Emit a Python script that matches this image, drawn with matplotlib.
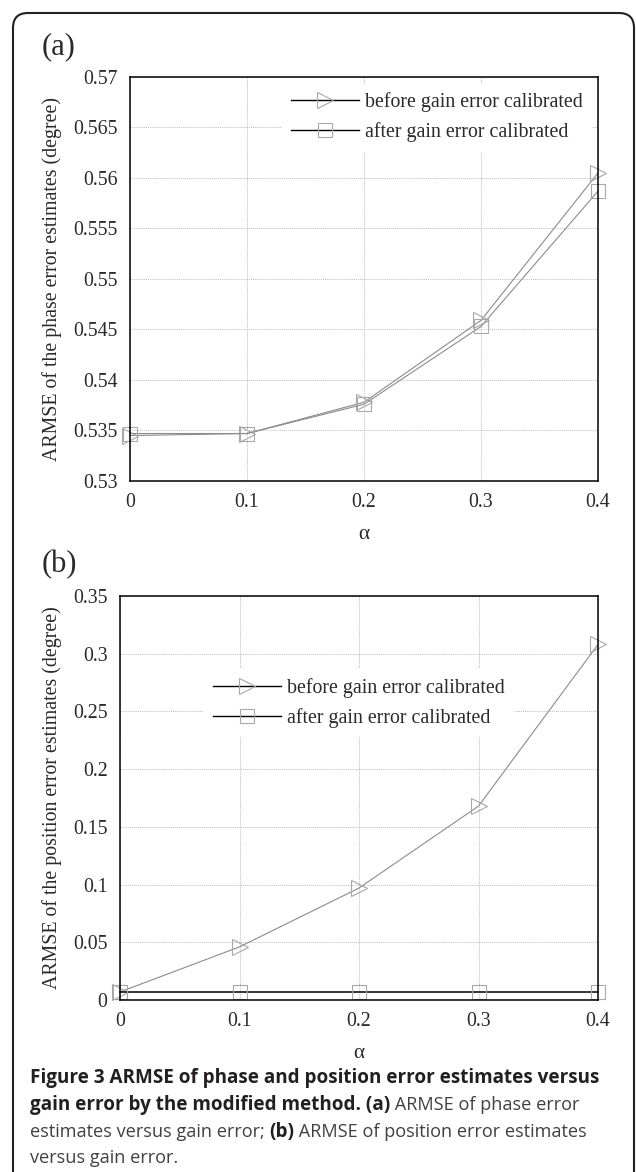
import matplotlib
matplotlib.use('Agg')
import matplotlib.pyplot as plt
from matplotlib.lines import Line2D
from matplotlib.patches import FancyBboxPatch
import matplotlib.transforms as mtransforms

alpha = [0, 0.1, 0.2, 0.3, 0.4]
phase_before = [0.5345, 0.5347, 0.5378, 0.5459, 0.5605]
phase_after = [0.5347, 0.5347, 0.5376, 0.5453, 0.5587]
pos_before = [0.007, 0.046, 0.097, 0.168, 0.308]
pos_after = [0.007, 0.007, 0.007, 0.007, 0.007]
xticks = [0, 0.1, 0.2, 0.3, 0.4]
xlabels = ['0', '0.1', '0.2', '0.3', '0.4']
yticks_a = [0.53, 0.535, 0.54, 0.545, 0.55, 0.555, 0.56, 0.565, 0.57]
ylabels_a = ['0.53', '0.535', '0.54', '0.545', '0.55', '0.555', '0.56', '0.565', '0.57']
yticks_b = [0, 0.05, 0.1, 0.15, 0.2, 0.25, 0.3, 0.35]
ylabels_b = ['0', '0.05', '0.1', '0.15', '0.2', '0.25', '0.3', '0.35']
names = ['before gain error calibrated', 'after gain error calibrated']

plt.rcParams['font.family'] = ['Liberation Serif', 'DejaVu Serif']

W, H = 636, 1172
fig = plt.figure(figsize=(W / 100, H / 100), dpi=100)

FS = 14.3
tc = '#2a2a2a'
gray = '#8c8c8c'
mgray = '#a8a8a8'


def setup(ax, yt, yl, ylab, lx, xl_y):
    ax.set_xlim(0, 0.4)
    ax.set_xticks(xticks)
    ax.set_xticklabels(xlabels)
    ax.set_yticks(yt)
    ax.set_yticklabels(yl)
    ax.set_ylim(yt[0], yt[-1])
    ax.tick_params(length=0, labelsize=FS, colors=tc)
    ax.tick_params(axis='x', pad=8.5)
    ax.tick_params(axis='y', pad=9)
    ax.grid(True, color='#bdbdbd', linestyle=(0, (1, 1)), linewidth=0.7)
    ax.set_axisbelow(True)
    for s in ax.spines.values():
        s.set_linewidth(1.1)
        s.set_color('black')
    ax.set_xlabel('α', fontsize=FS + 1, color=tc)
    ax.xaxis.set_label_coords(0.5, xl_y)
    ax.set_ylabel(ylab, fontsize=FS, color=tc)
    ax.yaxis.set_label_coords(lx, 0.5)


def legend(ax, x, y):
    hs = [Line2D([], [], color='black', lw=1.0, marker='>', ms=12, mfc='none', mec=mgray, mew=0.8),
          Line2D([], [], color='black', lw=1.0, marker='s', ms=10, mfc='none', mec=mgray, mew=0.8)]
    bp = 0.45
    leg = ax.legend(hs, names, loc='center left', fontsize=FS, frameon=True, facecolor='white',
                    edgecolor='none', framealpha=1, fancybox=False, borderpad=bp, borderaxespad=0,
                    handlelength=3.4, handletextpad=0.35, labelspacing=0.55,
                    bbox_to_anchor=((x - bp * FS * 100 / 72) / W, 1 - y / H),
                    bbox_transform=fig.transFigure)
    leg.set_zorder(2.4)
    for t in leg.get_texts():
        t.set_color(tc)


# (a)
ax1 = fig.add_axes([130 / W, 1 - 481 / H, 468 / W, 404 / H])
ax1.plot(alpha, phase_before, color=gray, lw=0.8, marker='>', ms=12, mfc='none', mec=mgray, mew=0.8, clip_on=False)
ax1.plot(alpha, phase_after, color=gray, lw=0.8, marker='s', ms=10, mfc='none', mec=mgray, mew=0.8, clip_on=False)
setup(ax1, yticks_a, ylabels_a, 'ARMSE of the phase error estimates (degree)', -0.145, -0.11)
legend(ax1, 291, 117)
fig.text(42 / W, 1 - 47 / H, '(a)', fontsize=22, va='center', ha='left', color=tc)

# (b)
ax2 = fig.add_axes([120 / W, 1 - 1000 / H, 478 / W, 404 / H])
ax2.plot(alpha, pos_before, color=gray, lw=0.8, marker='>', ms=12, mfc='none', mec=mgray, mew=0.8, clip_on=False)
ax2.plot(alpha, pos_after, color='black', lw=1.1, marker='s', ms=10, mfc='none', mec=mgray, mew=0.8, clip_on=False)
setup(ax2, yticks_b, ylabels_b, 'ARMSE of the position error estimates (degree)', -0.121, -0.11)
legend(ax2, 213, 703)
fig.text(42 / W, 1 - 565 / H, '(b)', fontsize=22, va='center', ha='left', color=tc)

# border
border = FancyBboxPatch((13, -50), 621, H - 13 + 50, boxstyle='round,pad=0,rounding_size=15',
                        fill=False, lw=1.5, edgecolor='#222222', transform=mtransforms.IdentityTransform())
fig.add_artist(border)

# caption
cap_lines = [
    [('Figure 3 ARMSE of phase and position error estimates versus', 'bold')],
    [('gain error by the modified method. (a)', 'bold'), (' ARMSE of phase error', 'normal')],
    [('estimates versus gain error; ', 'normal'), ('(b)', 'bold'), (' ARMSE of position error estimates', 'normal')],
    [('versus gain error.', 'normal')],
]
renderer = fig.canvas.get_renderer()
# fit caption size so that the first line spans x=30..599
probe = fig.text(0, 0, cap_lines[0][0][0], fontsize=12, family='Open Sans', weight='bold')
cfs = 12 * 569 / probe.get_window_extent(renderer).width
probe.remove()
cap_y = [1083, 1110, 1137, 1163]
for line, yb in zip(cap_lines, cap_y):
    x = 30
    for s, wgt in line:
        col = '#231f20' if wgt == 'bold' else '#404040'
        size = cfs if wgt == 'bold' else cfs * 0.96
        t = fig.text(x / W, 1 - yb / H, s, fontsize=size, family='Open Sans', weight=wgt,
                     color=col, va='baseline', ha='left')
        x += t.get_window_extent(renderer).width

fig.savefig('out.png', dpi=100)
